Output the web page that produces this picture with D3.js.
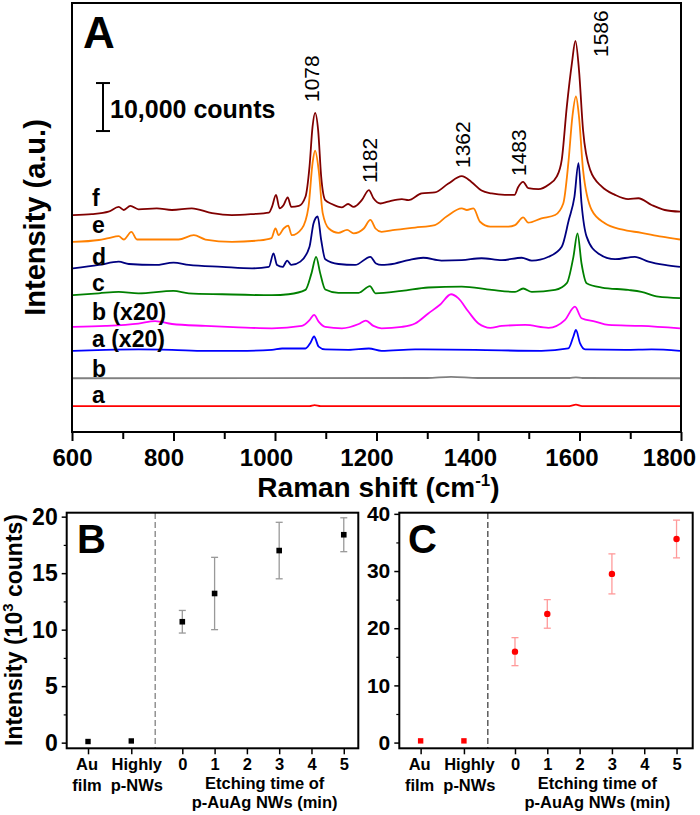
<!DOCTYPE html>
<html>
<head>
<meta charset="utf-8">
<script src="https://cdnjs.cloudflare.com/ajax/libs/d3/7.8.5/d3.min.js"></script>
<style>
    body { margin: 0; background: #fff; }
    svg { display: block; font-family: "Liberation Sans", Arial, sans-serif; }
</style>
</head>
<body>
<svg id="chart" width="700" height="815"></svg>
<script>
// ---- panel A: stacked Raman spectra, [wavenumber, counts incl. offset] ----
var specF = [[602,45200],[639,45400],[672,45900],[692,46900],[702,46250],[715,47100],[731,46400],[767,46600],[797,46250],[836,46600],[876,45600],[915,45200],[955,45400],[988,45700],[994,46900],[1002,49400],[1009,46600],[1017,47300],[1025,48900],[1032,46900],[1047,47100],[1060,49000],[1068,55300],[1074,63600],[1079,66500],[1085,62900],[1091,53200],[1099,48300],[1112,47500],[1132,46800],[1144,47500],[1155,46900],[1171,48300],[1185,50400],[1194,48700],[1208,47600],[1223,48000],[1250,48500],[1263,48300],[1289,49700],[1315,49900],[1341,51700],[1368,53300],[1387,52100],[1407,50300],[1427,49700],[1453,49400],[1472,49400],[1479,51000],[1489,52100],[1499,50800],[1519,50600],[1539,51500],[1555,53200],[1565,56700],[1575,67800],[1585,76800],[1592,81500],[1599,75400],[1607,62900],[1621,54600],[1644,51100],[1670,49400],[1696,48500],[1716,48700],[1742,47300],[1768,46250],[1798,45900]];
var specE = [[602,39600],[653,40000],[672,40400],[692,40800],[702,40100],[717,41700],[728,40100],[764,40100],[810,40100],[840,41000],[863,40100],[915,39600],[968,39900],[993,40400],[1001,42400],[1007,41000],[1017,42400],[1026,43000],[1033,41000],[1053,42400],[1066,46900],[1074,56000],[1079,58600],[1086,54600],[1094,45600],[1106,42400],[1125,41500],[1142,42100],[1155,41400],[1175,42400],[1188,44200],[1198,42400],[1210,41700],[1236,42100],[1276,42600],[1315,43100],[1338,44900],[1368,46600],[1378,46250],[1391,46600],[1404,43800],[1424,42800],[1460,42800],[1473,43100],[1489,44700],[1499,43600],[1525,44500],[1552,45200],[1568,47600],[1578,56000],[1586,65700],[1593,69900],[1599,65700],[1607,54600],[1624,46250],[1650,43500],[1683,42200],[1722,41500],[1762,40700],[1798,40100]];
var specD = [[602,34100],[653,34800],[692,35500],[712,35000],[764,34800],[800,35300],[830,34800],[896,34400],[955,34100],[988,34400],[997,37200],[1004,34800],[1015,34400],[1024,35700],[1032,34800],[1050,35500],[1068,38600],[1076,43500],[1084,44900],[1091,40000],[1099,36000],[1125,35000],[1158,34800],[1188,36500],[1199,35100],[1210,34800],[1236,35100],[1263,35800],[1292,36300],[1328,35700],[1368,35800],[1407,36200],[1447,35800],[1486,36300],[1506,35700],[1539,36500],[1565,38600],[1579,44200],[1590,49000],[1598,56000],[1604,47600],[1614,40700],[1637,37200],[1670,36000],[1709,36500],[1736,35500],[1768,34800],[1798,34400]];
var specC = [[602,28500],[653,28900],[692,29200],[731,28900],[800,29400],[830,28900],[896,28700],[994,28500],[1027,28700],[1060,29600],[1072,33100],[1081,36500],[1089,33100],[1099,29700],[1125,29000],[1165,29000],[1187,30400],[1198,28900],[1250,29400],[1302,30100],[1368,30300],[1427,29600],[1473,29200],[1489,29900],[1506,29200],[1552,29600],[1575,31000],[1588,36500],[1596,41400],[1604,35100],[1614,31000],[1644,30100],[1696,29600],[1722,29200],[1755,28200],[1798,27900]];
var specB20 = [[602,21900],[666,22100],[731,22600],[764,23100],[797,22500],[863,22100],[928,21800],[994,21600],[1053,22100],[1068,23300],[1077,24400],[1086,23000],[1099,21900],[1132,21600],[1165,22500],[1179,23200],[1194,22100],[1210,21600],[1250,21900],[1276,22600],[1302,24700],[1325,26500],[1347,28700],[1361,27900],[1381,25100],[1401,22600],[1424,21700],[1447,22100],[1493,22300],[1539,21700],[1571,23300],[1591,26100],[1604,23700],[1631,23000],[1657,22300],[1722,22100],[1798,21600]];
var specA20 = [[602,16900],[666,17100],[731,17200],[797,17100],[863,16900],[928,16900],[994,17100],[1014,17400],[1060,17400],[1070,18600],[1077,19900],[1086,17800],[1099,17200],[1145,17100],[1185,17400],[1210,16900],[1276,17200],[1394,17100],[1525,16900],[1578,17400],[1588,19900],[1593,21250],[1601,18500],[1611,17200],[1690,17100],[1742,17200],[1798,16900]];
var specB = [[602,11200],[1300,11250],[1347,11500],[1400,11250],[1580,11250],[1593,11400],[1606,11250],[1798,11200]];
var specA = [[602,5400],[1068,5400],[1078,5600],[1090,5400],[1580,5400],[1593,5700],[1605,5400],[1798,5400]];

var specNames = ["f", "e", "d", "c", "b (x20)", "a (x20)", "b", "a"];
var specColors = ["#800000", "#ff8000", "#000080", "#008000", "#ff00ff", "#0000ff", "#808080", "#ff0000"];
var peakLabels = ["1078", "1182", "1362", "1483", "1586"];
var ramanTicks = [600, 800, 1000, 1200, 1400, 1600, 1800];

// ---- panels B and C ----
var groupLabels = [["Au", "film"], ["Highly", "p-NWs"]];
var etchTimes = [0, 1, 3, 5];
var groupB = [0.1, 0.15];
var meanB = [10.7, 13.2, 17.0, 18.4];
var errB = [1.0, 3.2, 2.5, 1.5];
var groupC = [0.3, 0.3];
var meanC = [15.9, 22.5, 29.5, 35.6];
var errC = [2.45, 2.5, 3.5, 3.3];
var ticksB = [0, 5, 10, 15, 20];
var ticksC = [0, 10, 20, 30, 40];

var svg = d3.select("#chart");
svg.append("rect").attr("width", 700).attr("height", 815).attr("fill", "#fff");

// ================= panel A =================
var ax = { left: 72, right: 681, top: 3, bottom: 432 };
var x = d3.scaleLinear().domain([600, 1800]).range([ax.left, ax.right]);
var y = d3.scaleLinear().domain([0, 89375]).range([ax.bottom, ax.top]);

var line = d3.line()
    .x(function (d) { return x(d[0]); })
    .y(function (d) { return y(d[1]); })
    .curve(d3.curveMonotoneX);

var spectra = [specF, specE, specD, specC, specB20, specA20, specB, specA];
// draw bottom traces first so upper ones sit on top
spectra.slice().reverse().forEach(function (s, i) {
    var k = spectra.length - 1 - i;
    svg.append("path")
        .datum(s)
        .attr("fill", "none")
        .attr("stroke", specColors[k])
        .attr("stroke-width", 1.8)
        .attr("stroke-linejoin", "round")
        .attr("d", line);
});

// trace labels
var labelDy = [-9, -9, -3, -4, -7, -4, -1, -3];
spectra.forEach(function (s, k) {
    svg.append("text")
        .attr("x", 92)
        .attr("y", y(s[0][1]) + labelDy[k])
        .attr("font-size", "23px")
        .attr("font-weight", "bold")
        .text(specNames[k]);
});

// peak labels (rotated)
var peakPos = [[319, 102], [377, 183], [470, 168], [526, 176], [608, 57]];
peakLabels.forEach(function (p, i) {
    svg.append("text")
        .attr("transform", "translate(" + peakPos[i][0] + "," + peakPos[i][1] + ") rotate(-90)")
        .attr("font-size", "21px")
        .text(p);
});

// scale bar
var barX = 103, barLo = 62700, barHi = 72700;
svg.append("line").attr("x1", barX).attr("x2", barX)
    .attr("y1", y(barLo)).attr("y2", y(barHi))
    .attr("stroke", "#000").attr("stroke-width", 2);
[barLo, barHi].forEach(function (v) {
    svg.append("line").attr("x1", barX - 7).attr("x2", barX + 7)
        .attr("y1", y(v)).attr("y2", y(v))
        .attr("stroke", "#000").attr("stroke-width", 2);
});
svg.append("text")
    .attr("x", 110).attr("y", 118)
    .attr("font-size", "25px").attr("font-weight", "bold")
    .text("10,000 counts");

// x axis: minor then major ticks
svg.append("g")
    .attr("transform", "translate(0," + ax.bottom + ")")
    .call(d3.axisBottom(x).tickValues(d3.range(700, 1800, 200)).tickSize(7).tickFormat(""))
    .call(function (g) { g.select(".domain").remove(); })
    .selectAll("line").attr("stroke-width", 2);
var gx = svg.append("g")
    .attr("transform", "translate(0," + ax.bottom + ")")
    .call(d3.axisBottom(x).tickValues(ramanTicks).tickSize(9).tickPadding(8).tickFormat(d3.format("d")));
gx.select(".domain").remove();
gx.selectAll("line").attr("stroke-width", 2);
// labels sit a little left of their ticks in the original, last one pulled in
var tickShift = [0, -10, -9, -10, -8, -8, -12];
gx.selectAll("text").attr("font-size", "24px").attr("font-weight", "bold")
    .attr("font-family", "'Liberation Sans', Arial, sans-serif")
    .attr("dx", function (d, i) { return tickShift[i]; });

svg.append("rect")
    .attr("x", ax.left).attr("y", ax.top)
    .attr("width", ax.right - ax.left).attr("height", ax.bottom - ax.top)
    .attr("fill", "none").attr("stroke", "#000").attr("stroke-width", 2);

svg.append("text")
    .attr("x", 83).attr("y", 48)
    .attr("font-size", "44px").attr("font-weight", "bold")
    .text("A");

var xl = svg.append("text")
    .attr("x", (ax.left + ax.right) / 2 + 2).attr("y", 497)
    .attr("text-anchor", "middle")
    .attr("font-size", "28px").attr("font-weight", "bold");
xl.append("tspan").text("Raman shift (cm");
xl.append("tspan").attr("font-size", "17px").attr("dy", -11).text("-1");
xl.append("tspan").attr("dy", 11).text(")");

svg.append("text")
    .attr("transform", "translate(45," + ((ax.top + ax.bottom) / 2) + ") rotate(-90)")
    .attr("text-anchor", "middle")
    .attr("font-size", "29px").attr("font-weight", "bold")
    .text("Intensity (a.u.)");

// ================= panels B and C =================
var catSlots = [-2.92, -1.58];
var divider = -0.84;

function drawPanel(opt) {
    var xs = d3.scaleLinear().domain([-3.58, opt.xmax]).range([opt.left, opt.right]);
    var ys = d3.scaleLinear().domain(opt.ydom).range([748.3, 512.7]);

    // y ticks
    var gy = svg.append("g")
        .attr("transform", "translate(" + opt.left + ",0)")
        .call(d3.axisLeft(ys).tickValues(opt.ticks).tickSize(5).tickPadding(4));
    gy.select(".domain").remove();
    gy.selectAll("line").attr("stroke-width", 1.5);
    gy.selectAll("text").attr("font-size", opt.tickFont).attr("font-weight", "bold")
        .attr("font-family", "'Liberation Sans', Arial, sans-serif");
    var minor = d3.range(opt.ticks.length - 1).map(function (i) {
        return (opt.ticks[i] + opt.ticks[i + 1]) / 2;
    });
    svg.append("g")
        .attr("transform", "translate(" + opt.left + ",0)")
        .call(d3.axisLeft(ys).tickValues(minor).tickSize(3).tickFormat(""))
        .call(function (g) { g.select(".domain").remove(); })
        .selectAll("line").attr("stroke-width", 1.2);

    // x ticks
    var gxb = svg.append("g")
        .attr("transform", "translate(0,748.3)")
        .call(d3.axisBottom(xs).tickValues(catSlots.concat(d3.range(0, 6)))
            .tickSize(6).tickPadding(4)
            .tickFormat(function (d) { return d >= 0 ? d : ""; }));
    gxb.select(".domain").remove();
    gxb.selectAll("line").attr("stroke-width", 1.5);
    gxb.selectAll("text").attr("font-size", "16.5px").attr("font-weight", "bold")
        .attr("font-family", "'Liberation Sans', Arial, sans-serif");

    // group labels
    groupLabels.forEach(function (lines, i) {
        var t = svg.append("text")
            .attr("text-anchor", "middle")
            .attr("font-size", "16.5px").attr("font-weight", "bold");
        lines.forEach(function (s, j) {
            t.append("tspan")
                .attr("x", xs(catSlots[i]) + (i === 0 ? -1 : 5.5))
                .attr("y", 770 + j * 21)
                .text(s);
        });
    });
    var et = svg.append("text")
        .attr("text-anchor", "middle")
        .attr("font-size", "16.5px").attr("font-weight", "bold");
    et.append("tspan").attr("x", xs(2.55)).attr("y", 788.5).text("Etching time of");
    et.append("tspan").attr("x", xs(2.55)).attr("y", 807.5).text("p-AuAg NWs (min)");

    // divider
    svg.append("line")
        .attr("x1", xs(divider)).attr("x2", xs(divider))
        .attr("y1", 513).attr("y2", 748)
        .attr("stroke", opt.dashColor).attr("stroke-width", 1.2)
        .attr("stroke-dasharray", "6,3");

    // error bars
    etchTimes.forEach(function (t, i) {
        var cx = xs(t), lo = ys(opt.mean[i] - opt.err[i]), hi = ys(opt.mean[i] + opt.err[i]);
        svg.append("line").attr("x1", cx).attr("x2", cx).attr("y1", lo).attr("y2", hi)
            .attr("stroke", opt.errColor).attr("stroke-width", 1.3);
        [lo, hi].forEach(function (yy) {
            svg.append("line").attr("x1", cx - 3.5).attr("x2", cx + 3.5).attr("y1", yy).attr("y2", yy)
                .attr("stroke", opt.errColor).attr("stroke-width", 1.3);
        });
    });

    // group markers (squares)
    opt.group.forEach(function (v, i) {
        svg.append("rect")
            .attr("x", xs(catSlots[i]) - 2.7).attr("y", ys(v) - 2.7)
            .attr("width", 5.4).attr("height", 5.4)
            .attr("fill", opt.color);
    });
    // etching markers
    etchTimes.forEach(function (t, i) {
        if (opt.circles) {
            svg.append("circle").attr("cx", xs(t)).attr("cy", ys(opt.mean[i])).attr("r", 3.2)
                .attr("fill", opt.color);
        } else {
            svg.append("rect")
                .attr("x", xs(t) - 2.8).attr("y", ys(opt.mean[i]) - 2.8)
                .attr("width", 5.6).attr("height", 5.6)
                .attr("fill", opt.color);
        }
    });

    svg.append("rect")
        .attr("x", opt.left).attr("y", 512.7)
        .attr("width", opt.right - opt.left).attr("height", 748.3 - 512.7)
        .attr("fill", "none").attr("stroke", "#000").attr("stroke-width", 2);

    svg.append("text")
        .attr("x", opt.letterX).attr("y", 553)
        .attr("font-size", "40px").attr("font-weight", "bold")
        .text(opt.letter);
}

drawPanel({
    left: 66.7, right: 358.3, xmax: 5.45, ydom: [-0.5, 20.35], ticks: ticksB, tickFont: "23px",
    group: groupB, mean: meanB, err: errB, color: "#000", errColor: "#999",
    dashColor: "#777", circles: false, letter: "B", letterX: 77
});
drawPanel({
    left: 399.3, right: 692.7, xmax: 5.5, ydom: [-1, 40.2], ticks: ticksC, tickFont: "21px",
    group: groupC, mean: meanC, err: errC, color: "#ff0000", errColor: "#ff9a9a",
    dashColor: "#333", circles: true, letter: "C", letterX: 408
});

var yl = svg.append("text")
    .attr("transform", "translate(22,630) rotate(-90)")
    .attr("text-anchor", "middle")
    .attr("font-size", "23px").attr("font-weight", "bold");
yl.append("tspan").text("Intensity (10");
yl.append("tspan").attr("font-size", "15px").attr("dy", -9).text("3");
yl.append("tspan").attr("dy", 9).text(" counts)");
</script>
</body>
</html>
